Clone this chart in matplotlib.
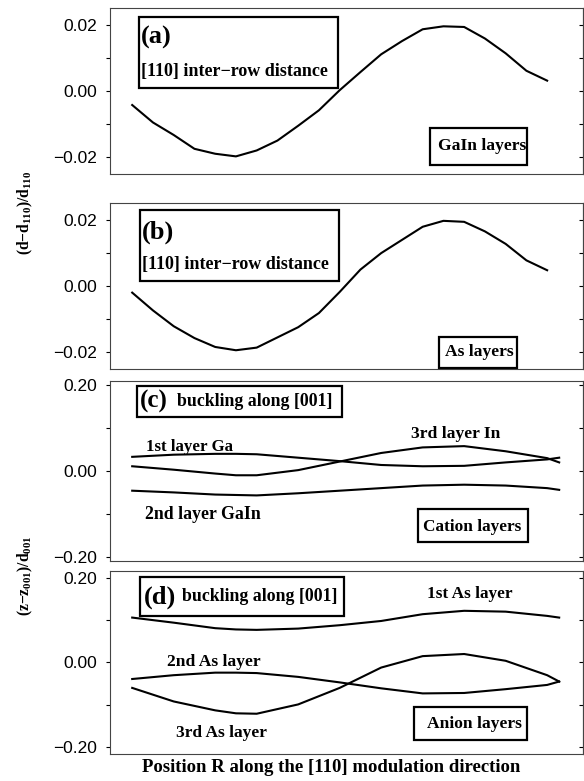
import matplotlib
matplotlib.use("Agg")
import matplotlib.pyplot as plt
from matplotlib.patches import Rectangle
from matplotlib.ticker import MultipleLocator, FuncFormatter

# position along [110] (panel a/b data spans 0..1, c/d a bit longer)
x_ab = [0.0, 0.05, 0.10, 0.15, 0.20, 0.25, 0.30, 0.35, 0.40, 0.45, 0.50,
        0.55, 0.60, 0.65, 0.70, 0.75, 0.80, 0.85, 0.90, 0.95, 1.00]
gain_d = [-0.0042, -0.0095, -0.0133, -0.0175, -0.0190, -0.0198, -0.0180,
          -0.0150, -0.0105, -0.0058, 0.0003, 0.0058, 0.0112, 0.0152,
          0.0188, 0.0197, 0.0195, 0.0160, 0.0115, 0.0062, 0.0032]
as_d = [-0.0020, -0.0074, -0.0122, -0.0158, -0.0185, -0.0195, -0.0187,
        -0.0156, -0.0125, -0.0082, -0.0018, 0.0050, 0.0100, 0.0140,
        0.0180, 0.0198, 0.0195, 0.0166, 0.0128, 0.0078, 0.0048]

x_cd = [0.0, 0.1, 0.2, 0.25, 0.3, 0.4, 0.5, 0.6, 0.7, 0.8, 0.9, 1.0, 1.029]
ga_1st = [0.033, 0.038, 0.040, 0.040, 0.039, 0.031, 0.023, 0.014, 0.011, 0.012, 0.020, 0.027, 0.031]
in_3rd = [0.011, 0.003, -0.006, -0.010, -0.010, 0.002, 0.022, 0.042, 0.055, 0.058, 0.046, 0.030, 0.020]
gain_2nd = [-0.046, -0.050, -0.055, -0.056, -0.057, -0.052, -0.046, -0.040, -0.034, -0.032, -0.034, -0.040, -0.044]

as_1st = [0.106, 0.094, 0.081, 0.078, 0.077, 0.080, 0.088, 0.098, 0.114, 0.122, 0.120, 0.110, 0.106]
as_2nd = [-0.039, -0.030, -0.024, -0.024, -0.025, -0.034, -0.047, -0.061, -0.073, -0.072, -0.063, -0.053, -0.045]
as_3rd = [-0.060, -0.092, -0.113, -0.120, -0.121, -0.099, -0.060, -0.012, 0.015, 0.020, 0.004, -0.030, -0.045]

serif = "Liberation Serif"
sans = "Liberation Sans"
plt.rcParams["mathtext.fontset"] = "custom"
plt.rcParams["mathtext.rm"] = "Liberation Serif:bold"
plt.rcParams["mathtext.bf"] = "Liberation Serif:bold"

fig = plt.figure(figsize=(5.84, 7.81), dpi=100)

minus_fmt = FuncFormatter(lambda v, p: ("%.2f" % v).replace("-", "\u2212"))

def make_axes(rect, ylim, major, minor):
    ax = fig.add_axes(rect)
    ax.set_xlim(-0.054, 1.086)
    ax.set_ylim(*ylim)
    ax.set_xticks([])
    ax.yaxis.set_major_locator(MultipleLocator(major))
    ax.yaxis.set_minor_locator(MultipleLocator(minor))
    ax.yaxis.set_major_formatter(minus_fmt)
    ax.tick_params(axis="y", which="both", direction="out", length=3, width=0.8, pad=6)
    for lab in ax.get_yticklabels():
        lab.set_fontfamily(sans)
        lab.set_fontsize(12.5)
    sec = ax.secondary_yaxis("right")
    sec.yaxis.set_major_locator(MultipleLocator(minor))
    sec.tick_params(direction="in", length=3, width=0.8, labelright=False)
    for sp in list(ax.spines.values()) + list(sec.spines.values()):
        sp.set_linewidth(0.8)
        sp.set_color("#444444")
    return ax

def box(ax, x0, y0, x1, y1):
    ax.add_patch(Rectangle((x0, y0), x1 - x0, y1 - y0, transform=ax.transAxes,
                           fill=False, lw=1.6, color="black", clip_on=False))

def label(ax, x, y, s, size=12.8):
    ax.text(x, y, s, transform=ax.transAxes, ha="left", va="center",
            fontfamily=serif, fontweight="bold", fontsize=size)

lw = 1.5

# (a)
ax = make_axes([0.188, 0.777, 0.810, 0.2125], (-0.0252, 0.0252), 0.02, 0.01)
ax.plot(x_ab, gain_d, color="black", lw=lw)
box(ax, 0.0624, 0.518, 0.482, 0.946)
label(ax, 0.066, 0.822, "(a)", 19)
label(ax, 0.066, 0.620, "[110] inter\u2212row distance", 13)
box(ax, 0.6765, 0.054, 0.8816, 0.280)
label(ax, 0.693, 0.169, "GaIn layers", 12.6)

# (b)
ax = make_axes([0.188, 0.5275, 0.810, 0.2125], (-0.0252, 0.0252), 0.02, 0.01)
ax.plot(x_ab, as_d, color="black", lw=lw)
box(ax, 0.0647, 0.530, 0.4841, 0.958)
label(ax, 0.068, 0.822, "(b)", 19)
label(ax, 0.068, 0.630, "[110] inter\u2212row distance", 13)
box(ax, 0.6966, 0.009, 0.8615, 0.19)
label(ax, 0.709, 0.104, "As layers", 12.6)

# (c)
ax = make_axes([0.188, 0.2817, 0.810, 0.2305], (-0.21, 0.21), 0.2, 0.1)
ax.plot(x_cd, ga_1st, color="black", lw=lw)
ax.plot(x_cd, in_3rd, color="black", lw=lw)
ax.plot(x_cd, gain_2nd, color="black", lw=lw)
box(ax, 0.057, 0.80, 0.4905, 0.972)
label(ax, 0.0635, 0.884, "(c)", 18)
label(ax, 0.1416, 0.884, "buckling along [001]", 12.8)
label(ax, 0.076, 0.633, "1st layer Ga", 12.2)
label(ax, 0.636, 0.703, "3rd layer In", 12.6)
label(ax, 0.075, 0.261, "2nd layer GaIn", 12.8)
box(ax, 0.651, 0.103, 0.884, 0.289)
label(ax, 0.662, 0.190, "Cation layers", 12.4)

# (d)
ax = make_axes([0.188, 0.0346, 0.810, 0.2343], (-0.216, 0.216), 0.2, 0.1)
ax.plot(x_cd, as_1st, color="black", lw=lw)
ax.plot(x_cd, as_2nd, color="black", lw=lw)
ax.plot(x_cd, as_3rd, color="black", lw=lw)
box(ax, 0.0647, 0.754, 0.4947, 0.967)
label(ax, 0.0727, 0.859, "(d)", 19)
label(ax, 0.1535, 0.859, "buckling along [001]", 12.8)
label(ax, 0.670, 0.872, "1st As layer", 12.4)
label(ax, 0.1205, 0.503, "2nd As layer", 12.6)
label(ax, 0.1395, 0.115, "3rd As layer", 12.5)
box(ax, 0.6427, 0.0765, 0.8816, 0.257)
label(ax, 0.671, 0.164, "Anion layers", 12.6)

# axis titles
fig.text(25 / 584, 1 - 213 / 781, r"(d$-$d$_{110}$)/d$_{110}$", rotation=90,
         ha="center", va="center", fontfamily=serif, fontweight="bold", fontsize=11.2)
fig.text(25 / 584, 1 - 576 / 781, r"(z$-$z$_{001}$)/d$_{001}$", rotation=90,
         ha="center", va="center", fontfamily=serif, fontweight="bold", fontsize=11.2)
fig.text(331 / 584, 1 - 767 / 781, "Position R along the [110] modulation direction",
         ha="center", va="center", fontfamily=serif, fontweight="bold", fontsize=13.5)

fig.savefig("out.png", dpi=100)
